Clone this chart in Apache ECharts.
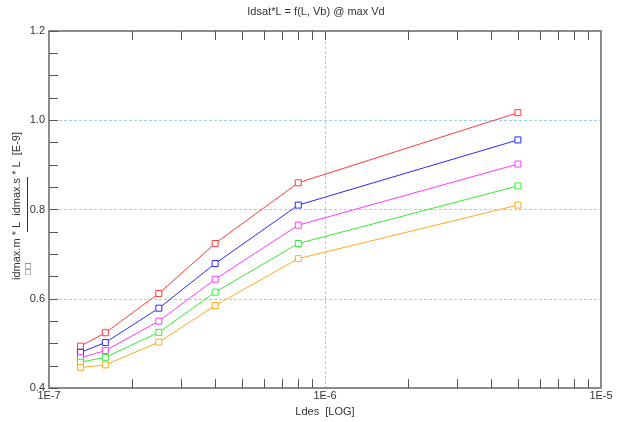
<!DOCTYPE html>
<html>
<head>
<meta charset="utf-8">
<script src="https://cdn.jsdelivr.net/npm/echarts@6/dist/echarts.min.js"></script>
<style>
  html, body { margin: 0; padding: 0; background: #fff; }
  #chart { width: 620px; height: 422px; }
</style>
</head>
<body>
<div id="chart"></div>
<script>
// gate lengths (x) and idmax*L per bias (y)
var ldes = [1.3e-7, 1.6e-7, 2.5e-7, 4e-7, 8e-7, 5e-6]
var redVals = [0.494, 0.524, 0.612, 0.724, 0.860, 1.017]
var blueVals = [0.480, 0.502, 0.579, 0.679, 0.810, 0.956]
var magentaVals = [0.468, 0.484, 0.550, 0.644, 0.765, 0.902]
var greenVals = [0.458, 0.469, 0.525, 0.615, 0.724, 0.853]
var orangeVals = [0.446, 0.452, 0.503, 0.585, 0.690, 0.810]
// minor ticks of the log axis (2..9 per decade)
var minorX = [2e-7, 3e-7, 4e-7, 5e-7, 6e-7, 7e-7, 8e-7, 9e-7,
  2e-6, 3e-6, 4e-6, 5e-6, 6e-6, 7e-6, 8e-6, 9e-6]
var topX = minorX.concat([1e-6])
var yMin = 0.4
var yMax = 1.2

var font = 'Liberation Sans, Arial, sans-serif'
var myChart = echarts.init(document.getElementById('chart'))

function pairs (vals) {
  return ldes.map(function (x, i) { return [x, vals[i]] })
}

function curve (name, vals, color) {
  return {
    name: name,
    type: 'line',
    data: pairs(vals),
    symbol: 'rect',
    symbolSize: 6,
    showSymbol: true,
    showAllSymbol: true,
    silent: true,
    lineStyle: { color: color, width: 1 },
    itemStyle: { color: '#fff', borderColor: color, borderWidth: 1 },
    z: 3
  }
}

// short vertical tick marks, drawn through the axis scale
function tickSeries (xs, yVal, dir) {
  return {
    type: 'custom',
    data: xs.map(function (x) { return [x, yVal] }),
    silent: true,
    clip: false,
    z: 4,
    renderItem: function (params, api) {
      var p = api.coord([api.value(0), api.value(1)])
      var x = Math.round(p[0]) + 0.5
      return {
        type: 'line',
        shape: { x1: x, y1: p[1], x2: x, y2: p[1] + dir * 9 },
        style: { stroke: '#555', lineWidth: 1 }
      }
    }
  }
}

var gridLine = { color: '#9cd3f0', type: [3, 2], width: 1 }

var option = {
  backgroundColor: '#fff',
  animation: false,
  grid: { left: 49, right: 19, top: 31, bottom: 31 },
  xAxis: [
    {
      type: 'log',
      logBase: 10,
      min: 1e-7,
      max: 1e-5,
      position: 'bottom',
      name: 'Ldes  [LOG]',
      nameLocation: 'middle',
      nameGap: 15,
      nameTextStyle: { color: '#333', fontSize: 11, fontFamily: font },
      axisLine: { show: true, lineStyle: { color: '#8c8c8c', width: 2 } },
      axisTick: { show: false },
      axisLabel: {
        color: '#333',
        fontSize: 11,
        fontFamily: font,
        margin: 2,
        formatter: function (v) { return '1E' + Math.round(Math.log10(v)) }
      },
      splitLine: { show: true, lineStyle: gridLine }
    },
    {
      type: 'log',
      logBase: 10,
      min: 1e-7,
      max: 1e-5,
      position: 'top',
      axisLine: { show: true, lineStyle: { color: '#8c8c8c', width: 2 } },
      axisTick: { show: false },
      axisLabel: { show: false },
      splitLine: { show: false }
    }
  ],
  yAxis: [
    {
      type: 'value',
      min: yMin,
      max: yMax,
      interval: 0.2,
      axisLine: { show: true, lineStyle: { color: '#8c8c8c', width: 2 } },
      axisTick: { show: true, inside: true, length: 9, lineStyle: { color: '#555' } },
      minorTick: { show: true, splitNumber: 4, length: 9, lineStyle: { color: '#555' } },
      axisLabel: {
        color: '#333',
        fontSize: 11,
        fontFamily: font,
        margin: 4,
        formatter: function (v) { return v.toFixed(1) }
      },
      splitLine: { show: true, lineStyle: gridLine }
    },
    {
      type: 'value',
      min: yMin,
      max: yMax,
      position: 'right',
      axisLine: { show: true, lineStyle: { color: '#8c8c8c', width: 2 } },
      axisTick: { show: false },
      axisLabel: { show: false },
      splitLine: { show: false }
    }
  ],
  graphic: [
    {
      type: 'text',
      x: 316,
      y: 12,
      style: {
        text: 'Idsat*L = f(L, Vb) @ max Vd',
        fill: '#333',
        font: '11px ' + font,
        textAlign: 'center',
        textVerticalAlign: 'middle'
      }
    },
    {
      type: 'text',
      x: 17,
      y: 206,
      rotation: Math.PI / 2,
      style: {
        text: 'idmax.m * L  idmax.s * L  [E-9]',
        fill: '#333',
        font: '11px ' + font,
        textAlign: 'center',
        textVerticalAlign: 'middle'
      }
    },
    {
      type: 'line',
      shape: { x1: 27.5, y1: 177, x2: 27.5, y2: 232 },
      style: { stroke: '#333', lineWidth: 1 }
    },
    {
      type: 'text',
      x: 28,
      y: 269,
      rotation: Math.PI / 2,
      style: {
        text: '□□',
        fill: '#333',
        font: '7px DejaVu Sans',
        textAlign: 'center',
        textVerticalAlign: 'middle'
      }
    }
  ],
  series: [
    curve('red', redVals, '#ff3a3a'),
    curve('blue', blueVals, '#2a2aff'),
    curve('magenta', magentaVals, '#ff3aff'),
    curve('green', greenVals, '#33ee33'),
    curve('orange', orangeVals, '#ffaa22'),
    tickSeries(minorX, yMin, -1),
    tickSeries(topX, yMax, 1)
  ]
}

myChart.setOption(option)
</script>
</body>
</html>
